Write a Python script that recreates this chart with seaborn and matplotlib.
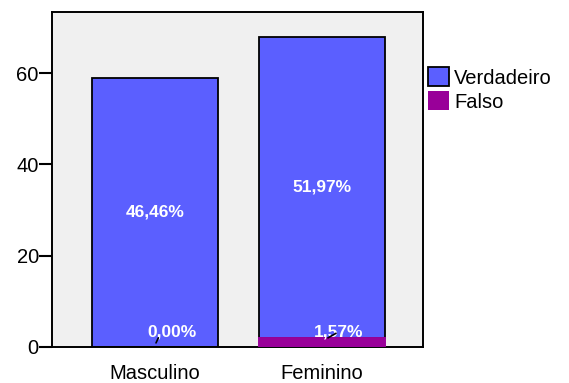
import matplotlib
matplotlib.use("Agg")
import matplotlib.pyplot as plt
from matplotlib.patches import Patch
import seaborn as sns
import pandas as pd

# Counts by sex and answer
categories = ["Masculino", "Feminino"]
verdadeiro = [59, 66]
falso = [0, 2]
pct_verdadeiro = ["46,46%", "51,97%"]
pct_falso = ["0,00%", "1,57%"]
y_ticks = [0, 20, 40, 60]

sns.set_style("white")
plt.rcParams["font.family"] = ["Liberation Sans", "DejaVu Sans"]
plt.rcParams["text.color"] = "black"

blue = "#5B5FFF"
purple = "#990099"

df = pd.DataFrame({"sexo": categories, "Verdadeiro": verdadeiro, "Falso": falso})

fig = plt.figure(figsize=(5.69, 3.83), dpi=100)
ax = fig.add_axes([0.0914, 0.094, 0.652, 0.8747])
ax.set_facecolor("#F0F0F0")

# Verdadeiro stacked on top of Falso; Falso drawn last so it covers the seam
sns.barplot(data=df, x="sexo", y="Verdadeiro", bottom=df["Falso"], color=blue,
            width=0.76, edgecolor="black", linewidth=1.3, saturation=1, ax=ax, zorder=2)
n_before = len(ax.patches)
sns.barplot(data=df, x="sexo", y="Falso", color=purple, width=0.76,
            edgecolor=purple, linewidth=1.4, saturation=1, ax=ax, zorder=3)
for p in ax.patches[n_before:]:
    if p.get_height() == 0:
        p.set_linewidth(0)

ax.set_xlim(-0.617, 1.605)
ax.set_ylim(0, 73.4)
ax.set_yticks(y_ticks)
ax.set_xlabel("")
ax.set_ylabel("")

# short leader lines from the base segment to its percentage label
leaders = [((0.006, 0.9), (0.02, 2.0)), ((0.036, 2.0), (0.084, 3.0))]

for i in range(len(categories)):
    ax.text(i, falso[i] + verdadeiro[i] / 2, pct_verdadeiro[i], color="white",
            fontsize=12.5, fontweight="bold", ha="center", va="center", zorder=5)
    ax.text(i + 0.1, 3.3, pct_falso[i], color="white", fontsize=12.5,
            fontweight="bold", ha="center", va="center", zorder=5)
    (x0, y0), (x1, y1) = leaders[i]
    ax.plot([i + x0, i + x1], [y0, y1], color="black", lw=1.2,
            zorder=5, clip_on=False)

for s in ax.spines.values():
    s.set_visible(True)
    s.set_color("black")
    s.set_linewidth(1.4)

ax.tick_params(axis="both", direction="out", length=9.5, width=1.5, color="black",
               labelsize=14.5, labelcolor="black", pad=0)
ax.tick_params(axis="x", length=7, pad=5)
ax.tick_params(axis="y", bottom=False, left=True)

handles = [Patch(facecolor=blue, edgecolor="black", linewidth=1.3, label="Verdadeiro"),
           Patch(facecolor=purple, edgecolor=purple, linewidth=0, label="Falso")]
fig.legend(handles=handles, loc="upper left", bbox_to_anchor=(0.752, 0.825),
           frameon=False, fontsize=14.5, handlelength=1.05, handleheight=1.1,
           handletextpad=0.25, labelspacing=0.18, borderaxespad=0, borderpad=0,
           labelcolor="black")

fig.savefig("out.png", dpi=100)
